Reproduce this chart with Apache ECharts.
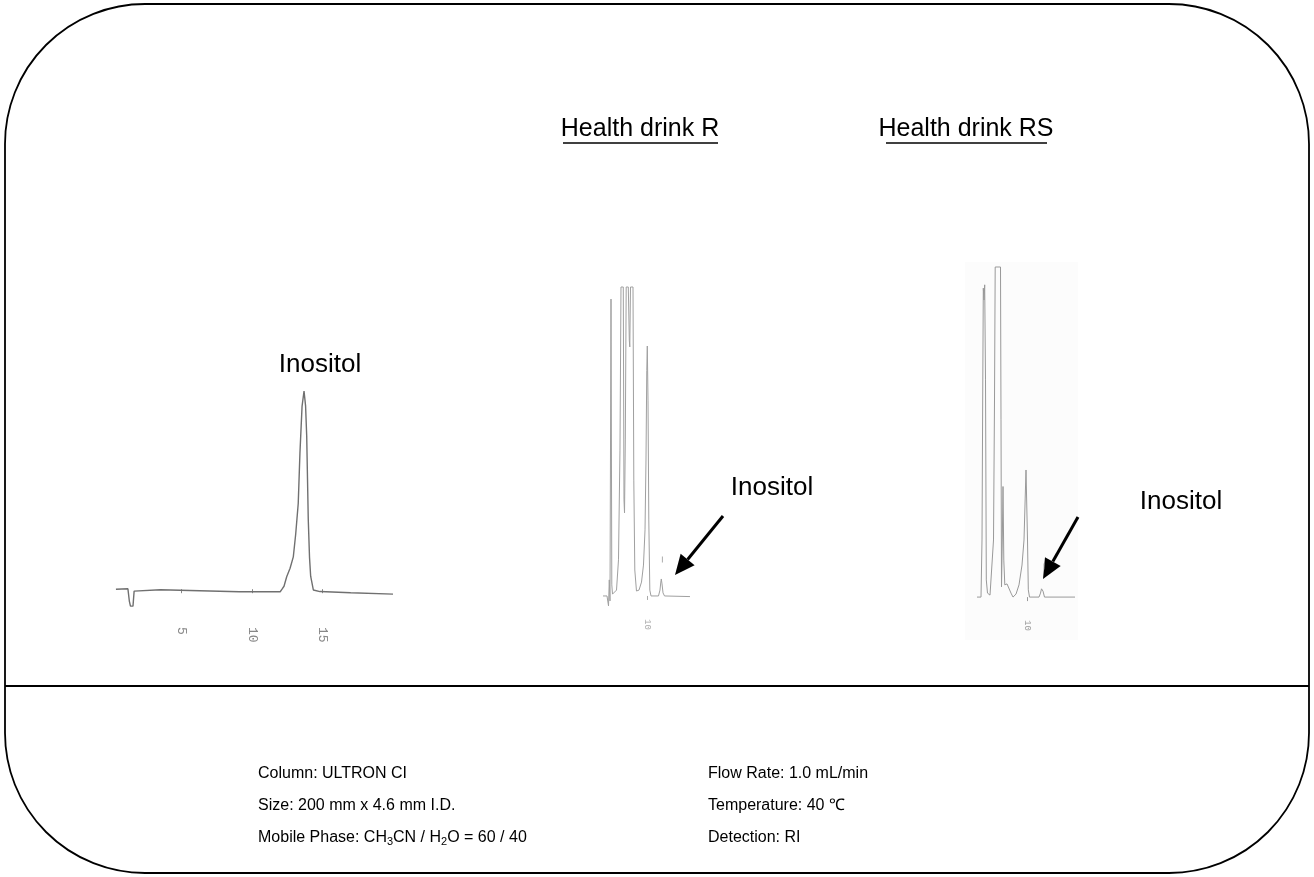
<!DOCTYPE html>
<html>
<head>
<meta charset="utf-8">
<title>Inositol</title>
<script src="https://cdn.jsdelivr.net/npm/echarts@6/dist/echarts.min.js"></script>
<style>
  html, body { margin: 0; padding: 0; background: #fff; }
  #chart { width: 1314px; height: 877px; }
</style>
</head>
<body>
<div id="chart"></div>
<script>
// retention time (min) / detector signal (% of full scale)
var standardTime = [0.35, 1.2, 1.3, 1.38, 1.56, 1.64, 1.75, 3.5, 6.3, 9.1, 12.0, 12.13, 12.27, 12.46, 12.7, 12.93, 13.1, 13.28, 13.4, 13.55, 13.69, 13.8, 13.88, 13.99, 14.08, 14.16, 14.35, 14.82, 17, 20];
var standardSignal = [0, 0.2, -6, -8.6, -8.6, -1, 0, -0.3, -0.8, -1.3, -1.3, 0, 1.5, 6.3, 10.6, 16.4, 28, 43.6, 69, 92.7, 100.5, 93, 77.6, 35.5, 16, 6.6, -0.4, -1.2, -1.8, -2.5];

var drinkRTime = [0, 0.91, 1.25, 1.43, 1.59, 1.82, 2.0, 2.16, 2.5, 3.07, 3.52, 3.86, 4.09, 4.61, 4.77, 4.89, 5.07, 5.27, 5.75, 5.98, 6.09, 6.25, 6.82, 7.0, 7.23, 7.61, 8.18, 8.75, 9.2, 9.55, 9.77, 9.95, 10.07, 10.23, 10.41, 10.64, 10.91, 12.61, 12.95, 13.14, 13.25, 13.41, 13.64, 13.98, 19.77];
var drinkRSignal = [0, 0, -3.2, 5.2, -1.6, 96.1, 3.6, 0.6, 0, 1.9, 11.7, 47.2, 100, 100, 31.1, 26.9, 50.5, 100, 100, 82.8, 80.6, 100, 100, 37.5, 8.4, 1.6, 1.9, 4.5, 10, 21.4, 44, 73, 80.9, 63.4, 24.6, 1.9, 0, 0, 1.9, 4.5, 5.5, 3.9, 1, 0, -0.2];

var drinkRSTime = [0, 0.8, 1.0, 1.14, 1.26, 1.4, 1.54, 1.7, 1.86, 2.1, 2.6, 3.0, 3.3, 3.5, 3.64, 4.7, 4.8, 4.9, 5.06, 5.2, 5.36, 5.56, 6.0, 6.4, 6.8, 7.2, 7.8, 8.4, 9.0, 9.4, 9.64, 9.8, 9.94, 10.1, 10.26, 10.5, 12.4, 12.7, 12.9, 13.04, 13.2, 13.5, 19.6];
var drinkRSSignal = [0, 0, 17.3, 59.7, 93.6, 90, 94.6, 65.8, 5.2, 1.2, 0.6, 0.9, 17.3, 59.7, 100, 100, 53.7, 3.1, 17.3, 33.5, 11.2, 3.7, 4, 3.4, 1.2, 0, 0.9, 3.7, 9.7, 17.3, 30, 38.5, 38.9, 17.3, 2.2, 0, 0, 1.2, 2.5, 2.8, 1.8, 0, 0];

// little peak marks the integrator printed above the inositol peak
var peakMarkR = [[13.5, 11.8]];
var peakMarkRS = [[13.4, 9.3]];

var ticksStandard = [5, 10, 15];
var ticksDrink = [10];

var sampleTitles = ['Health drink R', 'Health drink RS'];
var peakName = 'Inositol';
var conditionsLeft = ['Column: ULTRON CI', 'Size: 200 mm x 4.6 mm I.D.', 'Mobile Phase: CH{sub|3}CN / H{sub|2}O = 60 / 40'];
var conditionsRight = ['Flow Rate: 1.0 mL/min', 'Temperature: 40 \u2103', 'Detection: RI'];

function zip(xs, ys) {
    return xs.map(function (x, i) { return [x, ys[i]]; });
}

var myChart = echarts.init(document.getElementById('chart'));
var font = "'Liberation Sans', Arial, sans-serif";

function xAxisFor(i, ticks, fontSize, margin, color) {
    return {
        type: 'value', gridIndex: i, min: 0, max: 20,
        axisLine: { show: false },
        splitLine: { show: false },
        axisTick: { show: true, customValues: ticks, length: 4, lineStyle: { color: color, width: 1 } },
        axisLabel: {
            customValues: ticks, rotate: -90, margin: margin,
            fontSize: fontSize, color: color, fontFamily: "'Liberation Mono', monospace"
        }
    };
}

function traceSeries(i, data, color, width) {
    return {
        type: 'line', xAxisIndex: i, yAxisIndex: i,
        data: data, showSymbol: false, clip: false, silent: true,
        lineStyle: { color: color, width: width }
    };
}

function markSeries(i, data) {
    return {
        type: 'scatter', xAxisIndex: i, yAxisIndex: i, data: data, silent: true,
        symbol: 'rect', symbolSize: [1, 6], itemStyle: { color: '#999' }
    };
}

// arrow annotation: shaft + filled head
function arrow(x1, y1, x2, y2) {
    var dx = x2 - x1, dy = y2 - y1, len = Math.sqrt(dx * dx + dy * dy);
    var ux = dx / len, uy = dy / len;
    var hl = 20, hw = 9;
    var bx = x2 - ux * hl, by = y2 - uy * hl;
    return [
        { type: 'line', shape: { x1: x1, y1: y1, x2: bx, y2: by }, style: { stroke: '#000', lineWidth: 3 } },
        { type: 'polygon', shape: { points: [[x2, y2], [bx - uy * hw, by + ux * hw], [bx + uy * hw, by - ux * hw]] }, style: { fill: '#000' } }
    ];
}

function label(text, x, y, size, align) {
    return {
        type: 'text', x: x, y: y,
        style: { text: text, fontSize: size, fontFamily: font, fill: '#000', align: align || 'center', verticalAlign: 'middle' }
    };
}

var graphics = [
    { type: 'rect', shape: { x: 5, y: 4, width: 1304, height: 869, r: 140 }, style: { fill: 'none', stroke: '#000', lineWidth: 1.8 } },
    { type: 'line', shape: { x1: 5, y1: 686, x2: 1309, y2: 686 }, style: { stroke: '#000', lineWidth: 1.8 } },
    { type: 'rect', z: -1, shape: { x: 965, y: 262, width: 113, height: 378 }, style: { fill: '#fcfcfc' } },
    label(sampleTitles[0], 640, 129, 25),
    label(sampleTitles[1], 966, 129, 25),
    { type: 'line', shape: { x1: 563, y1: 143, x2: 718, y2: 143 }, style: { stroke: '#000', lineWidth: 1.5 } },
    { type: 'line', shape: { x1: 886, y1: 143, x2: 1047, y2: 143 }, style: { stroke: '#000', lineWidth: 1.5 } },
    label(peakName, 320, 365, 26),
    label(peakName, 772, 488, 26),
    label(peakName, 1181, 502, 26)
].concat(arrow(723, 516, 675, 575), arrow(1078, 517, 1043, 579));

var rich = { sub: { fontSize: 11, lineHeight: 8, verticalAlign: 'bottom', fontFamily: font } };
conditionsLeft.forEach(function (t, i) {
    graphics.push({ type: 'text', x: 258, y: 774 + i * 32,
        style: { text: t, fontSize: 16, lineHeight: 18, fontFamily: font, fill: '#000', verticalAlign: 'middle', rich: rich } });
});
conditionsRight.forEach(function (t, i) {
    graphics.push({ type: 'text', x: 708, y: 774 + i * 32,
        style: { text: t, fontSize: 16, lineHeight: 18, fontFamily: font, fill: '#000', verticalAlign: 'middle' } });
});

var option = {
    animation: false,
    backgroundColor: '#fff',
    grid: [
        { left: 111, top: 392, width: 282, height: 211, outerBoundsMode: 'none' },
        { left: 603, top: 287, width: 88, height: 317, outerBoundsMode: 'none' },
        { left: 977, top: 267, width: 100, height: 338, outerBoundsMode: 'none' }
    ],
    xAxis: [
        xAxisFor(0, ticksStandard, 13, 24, '#888'),
        xAxisFor(1, ticksDrink, 9, 15, '#aaa'),
        xAxisFor(2, ticksDrink, 9, 15, '#999')
    ],
    yAxis: [
        { type: 'value', gridIndex: 0, min: -7, max: 100, show: false },
        { type: 'value', gridIndex: 1, min: -2.6, max: 100, show: false },
        { type: 'value', gridIndex: 2, min: -2.4, max: 100, show: false }
    ],
    series: [
        traceSeries(0, zip(standardTime, standardSignal), '#707070', 1.4),
        traceSeries(1, zip(drinkRTime, drinkRSignal), '#a0a0a0', 1),
        traceSeries(2, zip(drinkRSTime, drinkRSSignal), '#999', 1),
        markSeries(1, peakMarkR),
        markSeries(2, peakMarkRS)
    ],
    graphic: { elements: graphics }
};

myChart.setOption(option);
</script>
</body>
</html>
